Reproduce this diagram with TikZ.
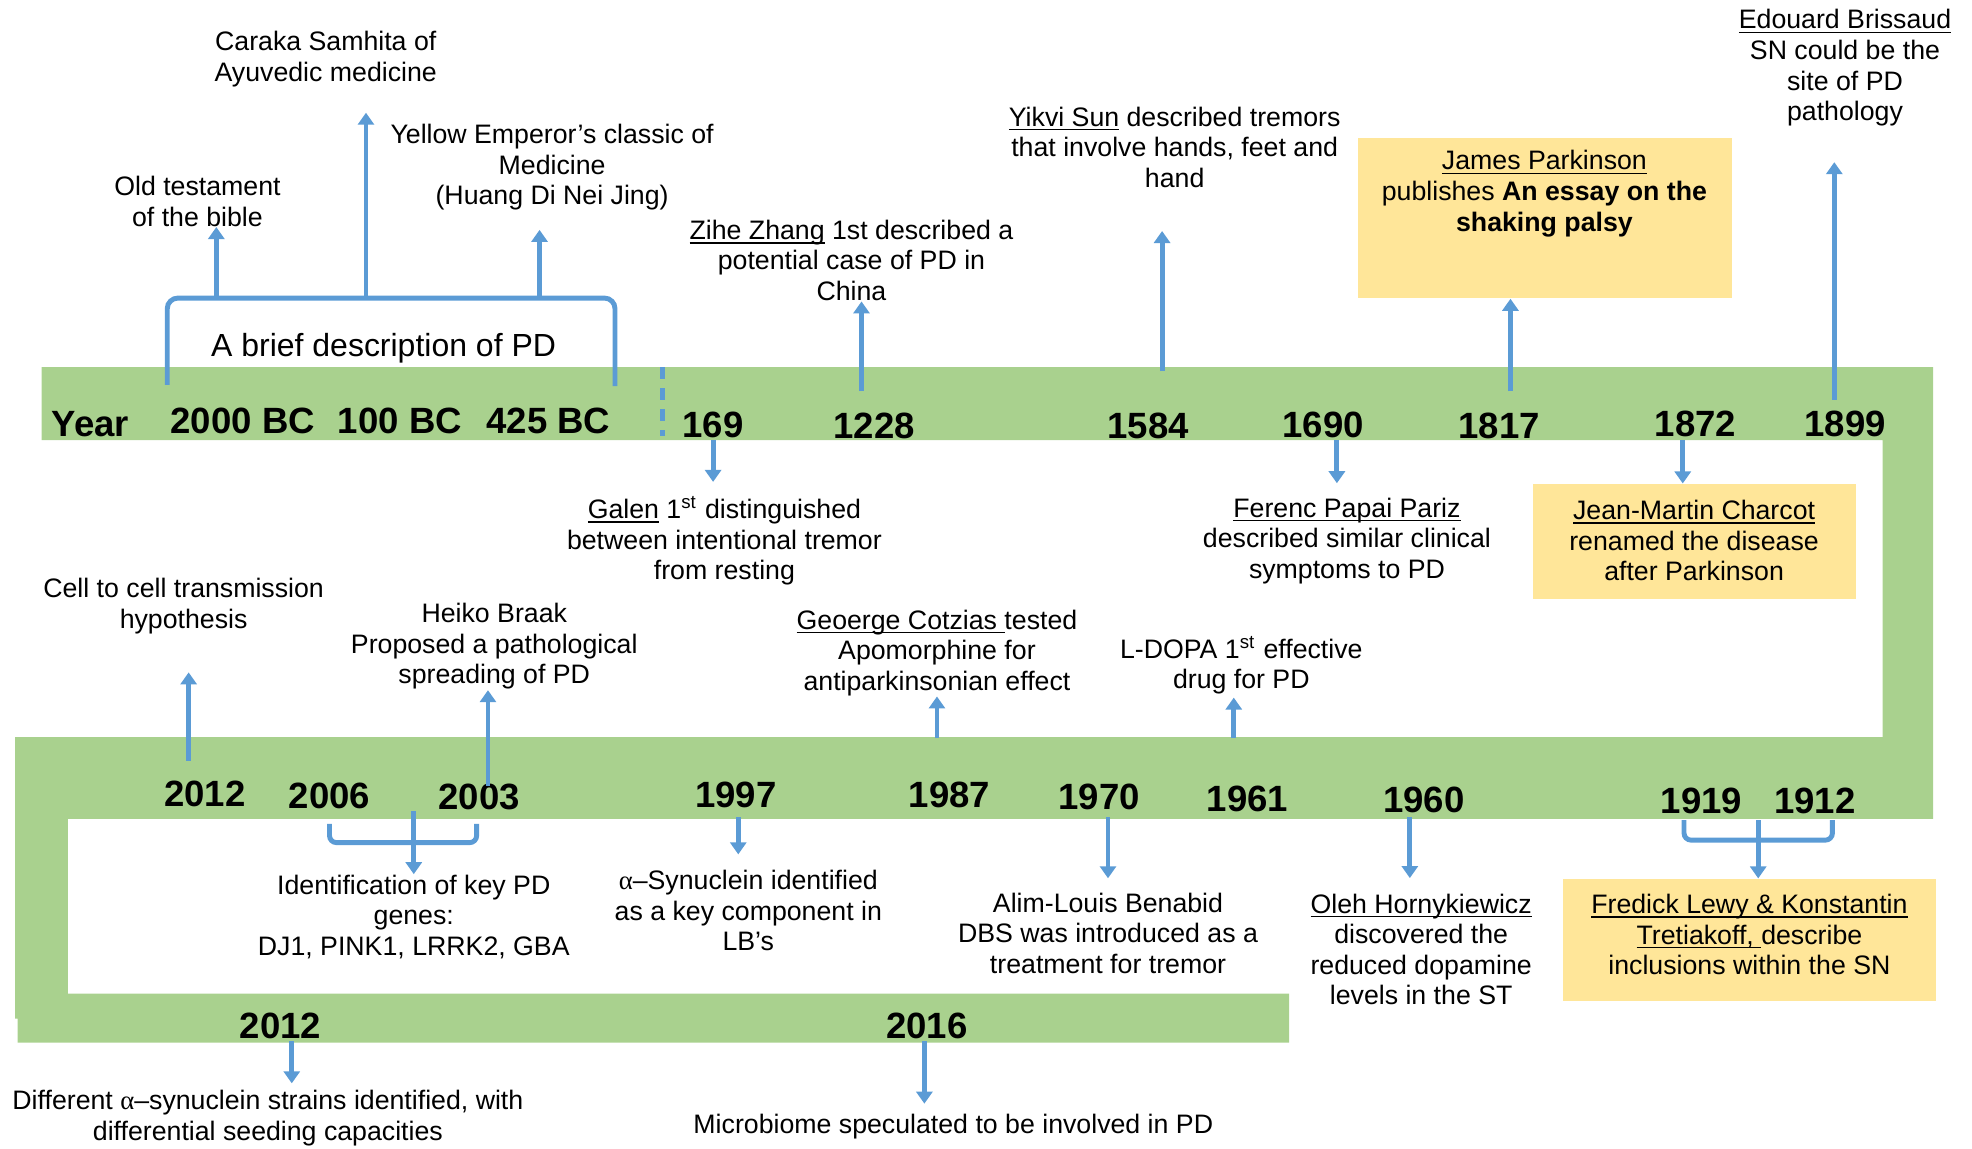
\documentclass[tikz,border=0pt]{standalone}
\usepackage{fontspec}
\setmainfont{Liberation Sans}
\newfontfamily\greekfont{Liberation Serif}
\usepackage{xcolor}
\usetikzlibrary{arrows.meta, positioning, calc}

\definecolor{bandgreen}{RGB}{169,209,142}
\definecolor{arrowblue}{RGB}{91,155,213}
\definecolor{notegold}{RGB}{255,230,153}

% underline close to the baseline, as in the slides
\newcommand{\undl}[1]{\setbox0=\hbox{#1}\rlap{\rule[-1.2pt]{\wd0}{0.45pt}}\box0\relax}

\begin{document}
\begin{tikzpicture}[
  x=0.12577mm, y=-0.12577mm,
  font=\fontsize{7.6}{8.7}\selectfont,
  year/.style={font=\fontsize{10.4}{12}\selectfont\bfseries, inner sep=0pt, anchor=base},
  note/.style={align=center, inner sep=0pt},
  goldbox/.style={fill=notegold, inner sep=0pt},
  arr/.style={draw=arrowblue, line width=1.4pt, -{Triangle[length=1.2mm, width=1.6mm]}},
  bracket/.style={draw=arrowblue, line width=1.4pt, rounded corners=2pt}
]
  \useasboundingbox (0,0) rectangle (1568,913);

  % the snake-shaped timeline band
  \fill[bandgreen] (33,292) -- (1537,292) -- (1537,651) -- (54,651) -- (54,790)
    -- (1025,790) -- (1025,829) -- (14,829) -- (14,810) -- (12,810) -- (12,586)
    -- (1497,586) -- (1497,350) -- (33,350) -- cycle;
  \draw[arrowblue, line width=1.4pt, dash pattern=on 1.2mm off 0.9mm] (527,292) -- (527,347);

  % years, first row
  \node[year] (year) at (72,347) {Year};
  \node[year] (y2000bc) at (193,345) {2000 BC};
  \node[year] (y100bc) at (318,345) {100 BC};
  \node[year] (y425bc) at (436,345) {425 BC};
  \node[year] (y169) at (567,348) {169};
  \node[year] (y1228) at (695,349) {1228};
  \node[year] (y1584) at (913,349) {1584};
  \node[year] (y1690) at (1052,348) {1690};
  \node[year] (y1817) at (1192,349) {1817};
  \node[year] (y1872) at (1348,347) {1872};
  \node[year] (y1899) at (1467,347) {1899};

  % years, second row
  \node[year] (y2012) at (163,641) {2012};
  \node[year] (y2006) at (262,643) {2006};
  \node[year] (y2003) at (381,644) {2003};
  \node[year] (y1997) at (585,642) {1997};
  \node[year] (y1987) at (755,642) {1987};
  \node[year] (y1970) at (874,644) {1970};
  \node[year] (y1961) at (992,645) {1961};
  \node[year] (y1960) at (1132,646) {1960};
  \node[year] (y1919) at (1353,647) {1919};
  \node[year] (y1912) at (1443,647) {1912};

  % years, third row
  \node[year] (y2012b) at (223,826) {2012};
  \node[year] (y2016) at (737,826) {2016};

  % events above the first row
  \node[note, font=\fontsize{9.1}{10.8}\selectfont] (brief) at (305,277) {A brief description of PD};
  \node[note] (bible) at (157,160) {Old testament\\of the bible};
  \node[note] (caraka) at (259,47) {Caraka Samhita of\\Ayuvedic medicine};
  \node[note] (yellow) at (439,133) {Yellow Emperor’s classic of\\Medicine\\(Huang Di Nei Jing)};
  \node[note] (zihe) at (677,207) {\undl{Zihe Zhang} 1st described a\\potential case of PD in\\China};
  \node[note] (yikvi) at (934,117) {\undl{Yikvi Sun} described tremors\\that involve hands, feet and\\hand};
  \node[goldbox, minimum width=37.35mm, minimum height=15.97mm] (parkbox) at (1228.5,173.5) {};
  \node[note] (park) at (1228,154) {\undl{James Parkinson}\\publishes \textbf{An essay on the}\\\textbf{shaking palsy}};
  \node[note] (brissaud) at (1467,54) {\undl{Edouard Brissaud}\\SN could be the\\site of PD\\pathology};

  % events below the first row
  \node[note] (galen) at (576,430) {\undl{Galen} 1\textsuperscript{st} distinguished\\between intentional tremor\\from resting};
  \node[note] (ferenc) at (1071,430) {\undl{Ferenc Papai Pariz}\\described similar clinical\\symptoms to PD};
  \node[goldbox, minimum width=32.32mm, minimum height=11.45mm] (charcotbox) at (1347.5,430.5) {};
  \node[note] (charcot) at (1347,430) {\undl{Jean-Martin Charcot}\\renamed the disease\\after Parkinson};

  % events above the second row
  \node[note] (cell) at (146,482) {Cell to cell transmission\\hypothesis};
  \node[note] (heiko) at (393,514) {Heiko Braak\\Proposed a pathological\\spreading of PD};
  \node[note] (cotzias) at (745,519) {\undl{Geoerge Cotzias~}tested\\Apomorphine for\\antiparkinsonian effect};
  \node[note] (ldopa) at (987,529) {L-DOPA 1\textsuperscript{st} effective\\drug for PD};

  % events below the second row
  \node[note] (genes) at (329,729) {Identification of key PD\\genes:\\DJ1, PINK1, LRRK2, GBA};
  \node[note] (synuclein) at (595,724) {{\greekfont α}--Synuclein identified\\as a key component in\\LB’s};
  \node[note] (benabid) at (881,742) {Alim-Louis Benabid\\DBS was introduced as a\\treatment for tremor};
  \node[note] (oleh) at (1130,755) {\undl{Oleh Hornykiewicz}\\discovered the\\reduced dopamine\\levels in the ST};
  \node[goldbox, minimum width=37.23mm, minimum height=12.2mm] (lewybox) at (1391,747.5) {};
  \node[note] (lewy) at (1391,743) {\undl{Fredick Lewy \& Konstantin}\\\undl{Tretiakoff,~}describe\\inclusions within the SN};

  % events below the third row
  \node[note] (strains) at (213,889) {Different {\greekfont α}--synuclein strains identified, with\\differential seeding capacities};
  \node[note] (microbiome) at (758,896) {Microbiome speculated to be involved in PD};

  % arrow feet
  \coordinate (braceL) at (133,306);
  \coordinate (braceTop) at (311,237);
  \coordinate (braceR) at (489,307);
  \coordinate (bibleFoot) at (172,237);
  \coordinate (carakaFoot) at (291,237);
  \coordinate (yellowFoot) at (429,237);
  \coordinate (f1228) at (685,311);
  \coordinate (f1584) at (924,295);
  \coordinate (f1817) at (1201,311);
  \coordinate (f1899) at (1458.5,318);
  \coordinate (f169) at (567,350);
  \coordinate (f1690) at (1063,350);
  \coordinate (f1872) at (1338,350);
  \coordinate (f2012) at (150,605);
  \coordinate (f2003) at (388,625);
  \coordinate (f1987) at (745,587);
  \coordinate (f1961) at (981,587);
  \coordinate (brk2006) at (262,655);
  \coordinate (brk2003) at (379,655);
  \coordinate (genesJoin) at (329,670);
  \coordinate (genesFoot) at (329,645);
  \coordinate (f1997) at (587,650);
  \coordinate (f1970) at (881,650);
  \coordinate (f1960) at (1121,650);
  \coordinate (brk1919) at (1339,652);
  \coordinate (brk1912) at (1457,652);
  \coordinate (lewyJoin) at (1398,668);
  \coordinate (f2012b) at (232,828);
  \coordinate (f2016) at (735,828);

  % brackets
  \draw[bracket, rounded corners=3pt] (braceL) |- (braceTop) -| (braceR);
  \draw[bracket] (brk2006) |- (genesJoin) -| (brk2003);
  \draw[bracket] (brk1919) |- (lewyJoin) -| (brk1912);

  % arrows
  \draw[arr] (bibleFoot) -- (bibleFoot |- bible.south);
  \draw[arr] (carakaFoot) -- ($(carakaFoot |- caraka.south)+(0,20)$);
  \draw[arr] (yellowFoot) -- ($(yellowFoot |- yellow.south)+(0,15)$);
  \draw[arr] (f1228) -- (f1228 |- zihe.south);
  \draw[arr] (f1584) -- ($(f1584 |- yikvi.south)+(0,34)$);
  \draw[arr] (f1817) -- (f1817 |- parkbox.south);
  \draw[arr] (f1899) -- ($(f1899 |- brissaud.south)+(0,28)$);
  \draw[arr] (f169) -- ($(f169 |- galen.north)+(0,-11)$);
  \draw[arr] (f1690) -- ($(f1690 |- ferenc.north)+(0,-11)$);
  \draw[arr] (f1872) -- (f1872 |- charcotbox.north);
  \draw[arr] (f2012) -- ($(f2012 |- cell.south)+(0,30)$);
  \draw[arr] (f2003) -- (f2003 |- heiko.south);
  \draw[arr] (f1987) -- (f1987 |- cotzias.south);
  \draw[arr] (f1961) -- ($(f1961 |- ldopa.south)+(0,2)$);
  \draw[arr] (genesFoot) -- (genesFoot |- genes.north);
  \draw[arr] (f1997) -- ($(f1997 |- synuclein.north)+(0,-12)$);
  \draw[arr] (f1970) -- ($(f1970 |- benabid.north)+(0,-11)$);
  \draw[arr] (f1960) -- ($(f1960 |- oleh.north)+(0,-12)$);
  \draw[arr] (lewyJoin |- brk1919) -- (lewyJoin |- lewybox.north);
  \draw[arr] (f2012b) -- ($(f2012b |- strains.north)+(0,-5)$);
  \draw[arr] (f2016) -- ($(f2016 |- microbiome.north)+(0,-8)$);
\end{tikzpicture}
\end{document}
